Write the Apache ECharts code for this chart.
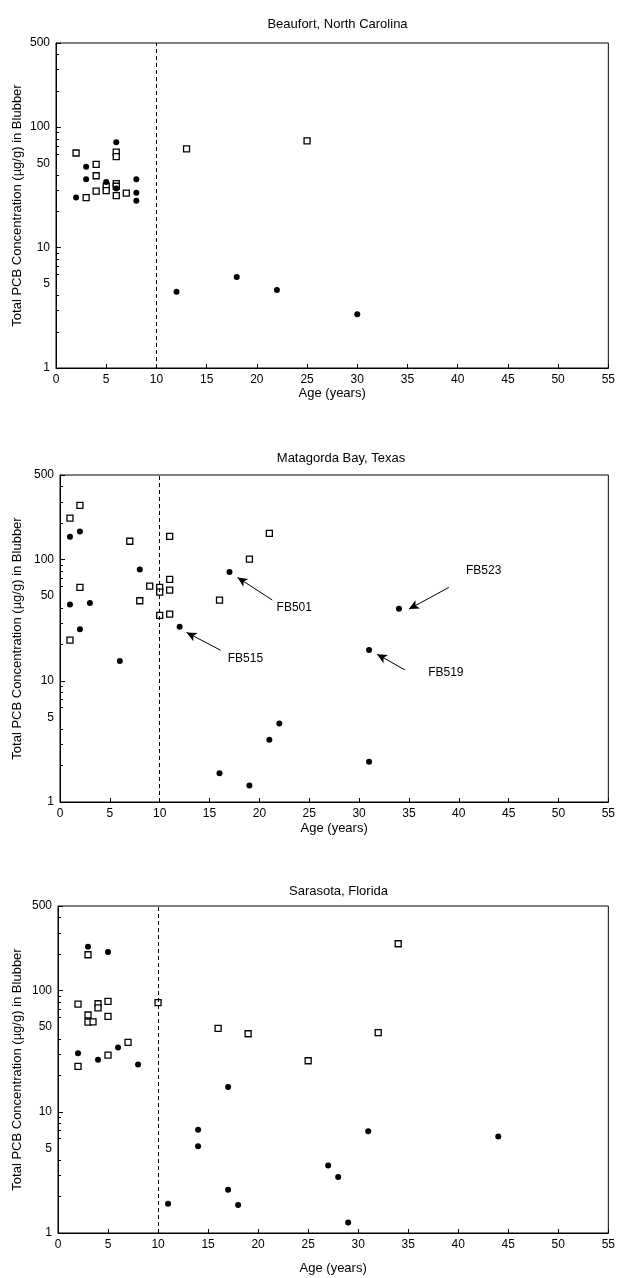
<!DOCTYPE html>
<html>
<head>
<meta charset="utf-8">
<script src="https://cdn.jsdelivr.net/npm/echarts@6/dist/echarts.min.js"></script>
<style>
html,body{margin:0;padding:0;background:#fff;}
#chart{width:618px;height:1278px;}
</style>
</head>
<body>
<div id="chart"></div>
<script>
// ---- Data (age in years, total PCB µg/g in blubber) ----
const panelTitles = ['Beaufort, North Carolina', 'Matagorda Bay, Texas', 'Sarasota, Florida'];
const xAxisTitle = 'Age (years)';
const yAxisTitle = 'Total PCB Concentration (\u00b5g/g) in Blubber';
const yTickLabels = [1, 5, 10, 50, 100, 500];
const yMinorTicks = [2, 3, 4, 6, 7, 8, 9, 20, 30, 40, 60, 70, 80, 90, 200, 300, 400];

const beaufortFilled = [[2,26],[3,47],[3,37],[5,35],[6,75],[6,31],[8,37],[8,28.5],[8,24.5],[12,4.3],[18,5.7],[22,4.45],[30,2.8]];
const beaufortOpen = [[2,61],[3,26],[4,49],[4,39.5],[4,29.4],[5,32.3],[5,29.7],[6,62],[6,57],[6,34],[6,32.3],[6,27],[7,28.3],[13,66],[25,77]];

const matagordaFilled = [[1,155],[2,171],[1,42.7],[3,43.8],[2,26.6],[6,14.6],[8,83],[12,28],[16,1.73],[17,79],[19,1.37],[21,3.27],[22,4.44],[31,18],[31,2.15],[34,39.4]];
const matagordaOpen = [[1,220],[2,281],[1,21.7],[2,59],[7,142],[8,45.8],[9,60.6],[10,59],[10,54],[10,34.7],[11,156],[11,68.8],[11,56],[11,35.6],[16,46.4],[19,101],[21,165]];

const sarasotaFilled = [[3,231],[5,209],[2,30.5],[4,26.9],[6,34],[8,24.6],[11,1.74],[14,7.1],[14,5.2],[17,16],[17,2.28],[18,1.7],[27,3.6],[28,2.9],[29,1.22],[31,6.9],[44,6.25]];
const sarasotaOpen = [[3,198],[2,77.6],[2,23.7],[3,63],[3,55],[3.5,55.3],[4,78],[4,72],[5,81.6],[5,61.4],[5,29.4],[7,37.4],[10,79.6],[16,48.9],[19,44.1],[25,26.4],[32,45],[34,244]];

// Matagorda annotations: label name, label anchor [age, pcb], arrow from [age, pcb] to [age, pcb]
const annotNames = ['FB501', 'FB515', 'FB523', 'FB519'];
const annotLabelAt = [[23.5,40.3],[18.6,15.1],[42.5,81],[38.7,11.7]];
const annotArrowFrom = [[21.3,46.4],[16.1,17.9],[39,59],[34.6,12.3]];
const annotArrowTo = [[17.8,71.4],[12.7,25.1],[35,39.1],[31.8,16.6]];

const cutoffAge = 10;

// ---- Layout ----
const FONT = 'Liberation Sans, Arial, sans-serif';
const grids = [
  {left: 56, top: 43, width: 553, height: 325, xNameGap: 17, titleTop: 13},
  {left: 60, top: 475, width: 552, height: 327, xNameGap: 20, titleTop: 447},
  {left: 58, top: 906, width: 551, height: 327, xNameGap: 29, titleTop: 880}
];
const filledSets = [beaufortFilled, matagordaFilled, sarasotaFilled];
const openSets = [beaufortOpen, matagordaOpen, sarasotaOpen];

const option = {
  animation: false,
  backgroundColor: '#fff',
  textStyle: {fontFamily: FONT, color: '#000'},
  title: grids.map((g, i) => ({
    text: panelTitles[i],
    left: g.left + g.width / 2,
    textAlign: 'center',
    top: g.titleTop,
    textStyle: {fontFamily: FONT, fontSize: 13, fontWeight: 'normal', color: '#000'}
  })),
  grid: grids.map(g => ({
    left: g.left, top: g.top, width: g.width, height: g.height,
    show: true, borderColor: '#000', borderWidth: 1, backgroundColor: 'transparent'
  })),
  xAxis: grids.map((g, i) => ({
    type: 'value', gridIndex: i, min: 0, max: 55, interval: 5,
    name: xAxisTitle, nameLocation: 'middle', nameGap: g.xNameGap,
    nameTextStyle: {fontFamily: FONT, fontSize: 13, color: '#000'},
    axisLine: {show: true, lineStyle: {color: '#000', width: 1}},
    axisTick: {show: true, inside: true, length: 4, lineStyle: {color: '#000'}},
    axisLabel: {fontFamily: FONT, fontSize: 12, color: '#000', margin: 6},
    splitLine: {show: false}
  })),
  yAxis: [],
  series: []
};

grids.forEach((g, i) => {
  // data axis (log)
  option.yAxis.push({
    type: 'log', logBase: 10, gridIndex: i, min: 1, max: 500, position: 'left',
    name: yAxisTitle, nameLocation: 'middle', nameGap: g.left - 24,
    nameTextStyle: {fontFamily: FONT, fontSize: 13, color: '#000'},
    axisLine: {show: true, lineStyle: {color: '#000', width: 1}},
    axisTick: {show: true, inside: true, length: 5, lineStyle: {color: '#000'}},
    axisLabel: {show: false},
    splitLine: {show: false}
  });
  // label overlay axis in log10 units
  option.yAxis.push({
    type: 'value', gridIndex: i, min: 0, max: Math.log10(500), position: 'left',
    axisLine: {show: false},
    axisTick: {show: true, inside: true, length: 3, lineStyle: {color: '#000'},
      customValues: yMinorTicks.map(v => Math.log10(v))},
    axisLabel: {show: true, fontFamily: FONT, fontSize: 12, color: '#000', margin: 6,
      customValues: yTickLabels.map(v => Math.log10(v)),
      formatter: v => String(Math.round(Math.pow(10, v)))},
    splitLine: {show: false}
  });
  const yIdx = i * 2;
  const filledSeries = {
    type: 'scatter', xAxisIndex: i, yAxisIndex: yIdx, data: filledSets[i],
    symbol: 'circle', symbolSize: 6,
    itemStyle: {color: '#000', opacity: 1}, z: 3
  };
  const openSeries = {
    type: 'scatter', xAxisIndex: i, yAxisIndex: yIdx, data: openSets[i],
    symbol: 'rect', symbolSize: 6,
    itemStyle: {color: '#fff', borderColor: '#000', borderWidth: 1.3, opacity: 1}, z: 3,
    markLine: {
      silent: true, symbol: ['none', 'none'], label: {show: false},
      lineStyle: {color: '#000', type: [4, 3], width: 1},
      data: [{xAxis: cutoffAge}]
    }
  };
  if (i === 1) {
    filledSeries.markLine = {
      silent: true, symbol: ['none', 'arrow'], symbolSize: [7, 10], label: {show: false},
      lineStyle: {color: '#000', type: 'solid', width: 1},
      data: annotNames.map((n, k) => [{coord: annotArrowFrom[k]}, {coord: annotArrowTo[k]}])
    };
    filledSeries.markPoint = {
      silent: true, symbol: 'rect', symbolSize: 1,
      itemStyle: {color: 'rgba(0,0,0,0)'},
      label: {show: true, position: 'inside', formatter: '{b}', fontFamily: FONT, fontSize: 12, color: '#000'},
      data: annotNames.map((n, k) => ({name: n, coord: annotLabelAt[k]}))
    };
  }
  option.series.push(openSeries, filledSeries);
});

const chart = echarts.init(document.getElementById('chart'), null, {renderer: 'canvas'});
chart.setOption(option);
</script>
</body>
</html>
